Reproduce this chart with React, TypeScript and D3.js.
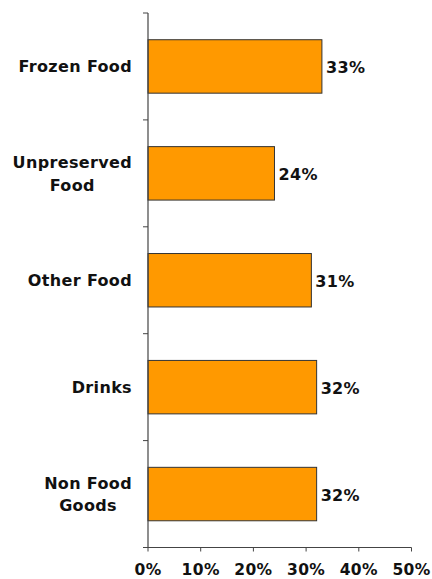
import React from "react";
import * as d3 from "d3";

const categories = ["Frozen Food", "Unpreserved Food", "Other Food", "Drinks", "Non Food Goods"];
const categoryLines = [["Frozen Food"], ["Unpreserved", "Food"], ["Other Food"], ["Drinks"], ["Non Food", "Goods"]];
const values = [33, 24, 31, 32, 32];
const xTicks = [0, 10, 20, 30, 40, 50];

const font = "'DejaVu Sans', Verdana, sans-serif";
const fs = 16;
const ls = 0.35;

function measure(s: string): number {
  const c = document.createElement("canvas").getContext("2d");
  if (!c) return s.length * fs * 0.68;
  c.font = `bold ${fs}px 'DejaVu Sans', Verdana, sans-serif`;
  return c.measureText(s).width + ls * s.length;
}

export default function App() {
  const W = 432, H = 579;
  const left = 148, right = 411.5, top = 13, bottom = 547.5;
  const x = d3.scaleLinear().domain([0, 50]).range([left, right]);
  const y = d3.scaleBand().domain(categories).range([top, bottom]).paddingInner(0.5).paddingOuter(0.25);
  const bandStep = (bottom - top) / categories.length;
  const labelRight = 132;
  return (
    <svg width={W} height={H} style={{ position: "absolute", left: 0, top: 0 }}>
      <rect width={W} height={H} fill="#fff" />
      {categories.map((c, i) => (
        <rect key={c} x={x(0)} y={y(c)!} width={x(values[i]) - x(0)} height={y.bandwidth()}
          fill="#FF9900" stroke="#333" strokeWidth={1} />
      ))}
      <line x1={left} x2={left} y1={top} y2={bottom} stroke="#444" strokeWidth={1.2} />
      {d3.range(categories.length + 1).map(i => (
        <line key={i} x1={left - 5} x2={left} y1={top + i * bandStep} y2={top + i * bandStep} stroke="#444" />
      ))}
      <line x1={left} x2={right} y1={bottom} y2={bottom} stroke="#444" strokeWidth={1.2} />
      {xTicks.map(t => (
        <g key={t}>
          <line x1={x(t)} x2={x(t)} y1={bottom} y2={bottom + 4} stroke="#444" />
          <text x={x(t)} y={575} textAnchor="middle" fontFamily={font} fontWeight="bold" fontSize={fs - 0.5} letterSpacing={ls} fill="#111">{t}%</text>
        </g>
      ))}
      {categories.map((c, i) => {
        const cy = y(c)! + y.bandwidth() / 2;
        const lines = categoryLines[i];
        const lh = 22.5;
        const maxW = Math.max(...lines.map(measure));
        const multi = lines.length > 1;
        const lx = multi ? labelRight - maxW / 2 : labelRight;
        return (
          <g key={c}>
            <text x={lx} textAnchor={multi ? "middle" : "end"} fontFamily={font} fontWeight="bold" fontSize={fs} letterSpacing={ls} fill="#111">
              {lines.map((l, j) => (
                <tspan key={j} x={lx} y={cy + 6 + (j - (lines.length - 1) / 2) * lh}>{l}</tspan>
              ))}
            </text>
            <text x={x(values[i]) + 4} y={cy + 7} fontFamily={font} fontWeight="bold" fontSize={fs} letterSpacing={ls} fill="#111">{values[i]}%</text>
          </g>
        );
      })}
    </svg>
  );
}
